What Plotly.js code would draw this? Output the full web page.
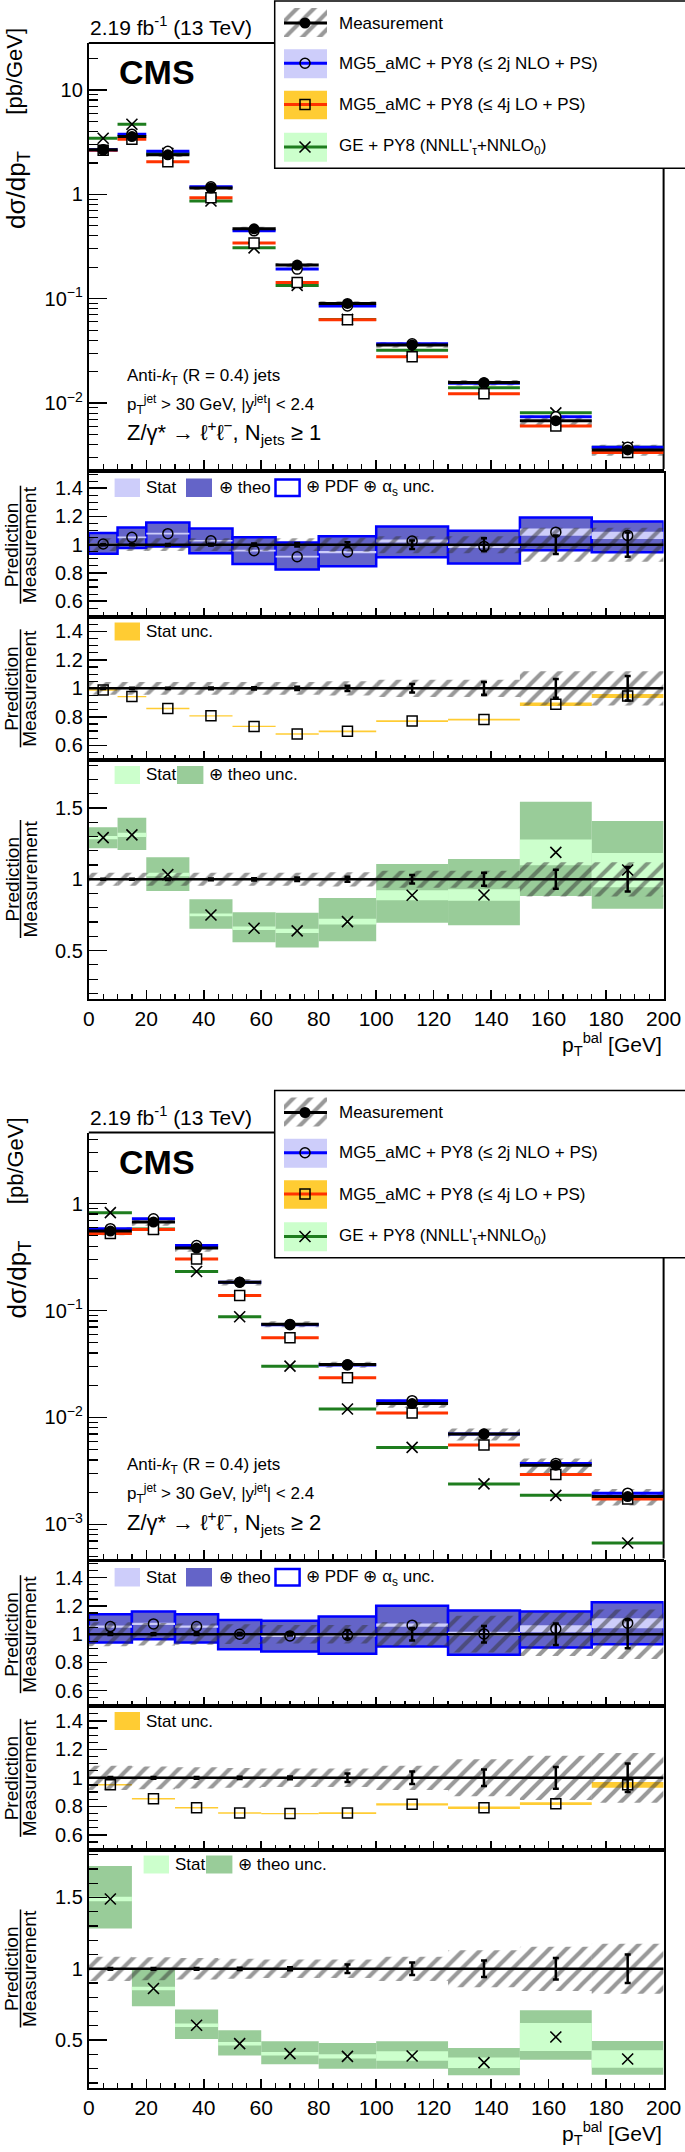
<!DOCTYPE html>
<html><head><meta charset="utf-8">
<script src="https://cdn.plot.ly/plotly-3.0.1.min.js"></script>
<style>html,body{margin:0;padding:0;background:#fff}</style>
</head><body><div id="plot" style="width:685px;height:2152px"></div>
<script>
// ================= DATA: N_jets >= 1 =================
const binEdges1 = [0,10,20,35,50,65,80,100,125,150,175,200];
const meas1     = [2.67, 3.58, 2.39, 1.15, 0.467, 0.21, 0.090, 0.036, 0.0157, 0.00678, 0.00355];
const measSys1  = [0.045,0.045,0.045,0.045,0.045,0.045,0.05,0.06,0.06,0.12,0.12];
const measStat1 = [0.004,0.004,0.005,0.006,0.008,0.012,0.018,0.03,0.045,0.066,0.086];
const nloPred1  = [2.68, 3.77, 2.58, 1.18, 0.447, 0.192, 0.0853, 0.0369, 0.0155, 0.00738, 0.00378];
const loPred1   = [2.64, 3.37, 2.05, 0.928, 0.342, 0.143, 0.0628, 0.0277, 0.0123, 0.00602, 0.00336];
const gePred1   = [3.45, 4.69, 2.47, 0.863, 0.307, 0.134, 0.0633, 0.032, 0.014, 0.00806, 0.00378];
const nloRatio1 = [1.005,1.052,1.078,1.028,0.958,0.915,0.948,1.026,0.988,1.089,1.066];
const nloLo1    = [0.936,0.976,0.988,0.939,0.864,0.824,0.847,0.911,0.866,0.960,0.946];
const nloHi1    = [1.082,1.122,1.158,1.115,1.052,1.016,1.059,1.129,1.099,1.193,1.165];
const nloStat1  = [0.006,0.006,0.006,0.006,0.006,0.006,0.008,0.01,0.012,0.025,0.025];
const loRatio1  = [0.988,0.942,0.858,0.807,0.733,0.679,0.698,0.77,0.781,0.888,0.947];
const loStat1   = [0.005,0.005,0.005,0.005,0.005,0.005,0.006,0.006,0.006,0.012,0.014];
const geRatio1  = [1.292,1.311,1.033,0.75,0.657,0.638,0.703,0.888,0.89,1.189,1.065];
const geLo1     = [1.217,1.206,0.918,0.654,0.558,0.521,0.565,0.696,0.678,0.883,0.794];
const geHi1     = [1.364,1.432,1.154,0.86,0.769,0.766,0.869,1.107,1.143,1.544,1.409];
const geStat1   = [0.012,0.015,0.012,0.01,0.012,0.015,0.02,0.035,0.04,0.09,0.12];

// ================= DATA: N_jets >= 2 =================
const binEdges2 = [0,15,30,45,60,80,100,125,150,175,200];
const meas2     = [0.553, 0.673, 0.384, 0.184, 0.0745, 0.0312, 0.0135, 0.00699, 0.00358, 0.00182];
const measSys2  = [0.085,0.08,0.075,0.07,0.065,0.065,0.085,0.13,0.155,0.175];
const measStat2 = [0.006,0.006,0.006,0.008,0.01,0.03,0.044,0.058,0.076,0.1];
const nloPred2  = [0.583, 0.722, 0.405, 0.184, 0.0736, 0.031, 0.01436, 0.0070, 0.00372, 0.00196];
const loPred2   = [0.526, 0.574, 0.303, 0.1386, 0.0558, 0.0235, 0.011, 0.00552, 0.00293, 0.00173];
const gePred2   = [0.823, 0.58, 0.232, 0.0874, 0.0302, 0.012, 0.00525, 0.00239, 0.00187, 0.00067];
const nloRatio2 = [1.054,1.073,1.054,1.0,0.988,0.993,1.064,1.002,1.038,1.078];
const nloLo2    = [0.941,0.965,0.941,0.894,0.878,0.861,0.913,0.854,0.906,0.929];
const nloHi2    = [1.141,1.16,1.141,1.101,1.096,1.125,1.202,1.167,1.16,1.226];
const nloStat2  = [0.008,0.008,0.008,0.008,0.008,0.01,0.012,0.015,0.025,0.035];
const loRatio2  = [0.951,0.853,0.79,0.753,0.749,0.753,0.814,0.79,0.819,0.951];
const loStat2   = [0.005,0.005,0.005,0.005,0.005,0.006,0.008,0.008,0.01,0.02];
const geRatio2  = [1.489,0.862,0.604,0.475,0.405,0.386,0.389,0.342,0.522,0.368];
const geLo2     = [1.283,0.738,0.508,0.393,0.33,0.3,0.3,0.253,0.363,0.258];
const geHi2     = [1.721,1.0,0.714,0.569,0.492,0.48,0.492,0.445,0.71,0.494];
const geStat2   = [0.015,0.012,0.012,0.012,0.012,0.015,0.033,0.037,0.098,0.061];

// ================= TEXT =================
const lumiText = '2.19 fb<sup>-1</sup> (13 TeV)';
const legendLabels = ['Measurement','MG5_aMC + PY8 (≤ 2j NLO + PS)','MG5_aMC + PY8 (≤ 4j LO + PS)',"GE + PY8 (NNLL'<sub>τ</sub>+NNLO<sub>0</sub>)"];
const selText1 = 'Anti-<i>k</i><sub>T</sub> (R = 0.4) jets';
const selText2 = 'p<sub>T</sub><sup>jet</sup> > 30 GeV, |y<sup>jet</sup>| < 2.4';
const procTexts = ['Z/γ* → ℓ<sup>+</sup>ℓ<sup>−</sup>, N<sub>jets</sub> ≥ 1','Z/γ* → ℓ<sup>+</sup>ℓ<sup>−</sup>, N<sub>jets</sub> ≥ 2'];
const mainTicks1 = {vals:[0.01,0.1,1,10], text:['10<sup>−2</sup>','10<sup>−1</sup>','1','10']};
const mainTicks2 = {vals:[0.001,0.01,0.1,1], text:['10<sup>−3</sup>','10<sup>−2</sup>','10<sup>−1</sup>','1']};

// ================= LAYOUT CONSTANTS =================
const W=685, H=2152, FONT='Liberation Sans, Arial, Helvetica, sans-serif';
const XL=88.8, XR=663.6, OFF=1089.5;
const PAN={main:[43,469], r1:[472.7,616.7], r2:[616.7,760], r3:[760,998.7]};
const COL={nloLine:'#0000ff', nloBox:'#6464c8', nloStat:'#cdcdfa', loLine:'#ff3300', loBand:'#ffcc33',
           geLine:'#1e7d1e', geBox:'#99cc99', geStat:'#ccffcc', hatch:'#333333'};
const px=v=>v/W, py=v=>1-v/H;

const traces=[], shapes=[], ann=[], layout={};
function xid(n){return n===1?'x':'x'+n;}
function yid(n){return n===1?'y':'y'+n;}
function key(a,n){return a+'axis'+(n===1?'':n);}
function centers(e){const c=[];for(let i=0;i<e.length-1;i++)c.push((e[i]+e[i+1])/2);return c;}
function widths(e){const c=[];for(let i=0;i<e.length-1;i++)c.push(e[i+1]-e[i]);return c;}
function segs(e,v){const x=[],y=[];for(let i=0;i<v.length;i++){x.push(e[i],e[i+1],null);y.push(v[i],v[i],null);}return {x,y};}

function txt(x,y,text,size,opts){ann.push(Object.assign({xref:'paper',yref:'paper',x:px(x),y:py(y),text,showarrow:false,
  font:{family:FONT,size,color:'black'},xanchor:'left',yanchor:'middle'},opts||{}));}
function rect(x0,y0,x1,y1,fill,ln,layer){shapes.push({type:'rect',xref:'paper',yref:'paper',x0:px(x0),x1:px(x1),y0:py(y1),y1:py(y0),
  fillcolor:fill,line:ln||{width:0},layer:layer||'above'});}
function seg(x0,y0,x1,y1,color,width,layer){shapes.push({type:'line',xref:'paper',yref:'paper',x0:px(x0),x1:px(x1),y0:py(y0),y1:py(y1),
  line:{color,width},layer:layer||'above'});}

function barT(xa,ya,x,w,base,h,color,ln){return {type:'bar',x,width:w,base,y:h,xaxis:xa,yaxis:ya,
  marker:{color,line:ln||{width:0}},hoverinfo:'skip',showlegend:false};}
function hatchT(xa,ya,x,w,base,h){return {type:'bar',x,width:w,base,y:h,xaxis:xa,yaxis:ya,hoverinfo:'skip',showlegend:false,
  marker:{color:'rgba(0,0,0,0)',line:{width:0},pattern:{shape:'/',fgcolor:COL.hatch,bgcolor:'rgba(0,0,0,0)',size:12,solidity:0.34,fillmode:'overlay'}}};}
function lineT(xa,ya,s,color,width){return {type:'scatter',mode:'lines',x:s.x,y:s.y,xaxis:xa,yaxis:ya,line:{color,width},hoverinfo:'skip',showlegend:false};}
function markT(xa,ya,x,y,symbol,size,fill,lw,extra){return Object.assign({type:'scatter',mode:'markers',x,y,xaxis:xa,yaxis:ya,
  marker:{symbol,size,color:fill,line:{color:'black',width:lw}},hoverinfo:'skip',showlegend:false},extra||{});}

function xAxis(n,anchorN,labels,mirror){layout[key('x',n)]={domain:[px(XL),px(XR)],range:[0,200],anchor:yid(anchorN),
  showline:true,linecolor:'black',linewidth:2,mirror:mirror,ticks:'inside',ticklen:9,tickwidth:1.5,tickcolor:'black',
  tickmode:'linear',tick0:0,dtick:20,minor:{ticks:'inside',ticklen:5,tickwidth:1.2,tickcolor:'black',tick0:0,dtick:5},
  showgrid:false,zeroline:false,showticklabels:labels,tickfont:{family:FONT,size:21,color:'black'},fixedrange:true};}
function yAxis(n,p,range,tv,tt,minorDt,mirror,extra){layout[key('y',n)]=Object.assign({domain:[py(p[1]),py(p[0])],range,anchor:xid(n),
  showline:true,linecolor:'black',linewidth:2,mirror:mirror,ticks:'inside',ticklen:18,tickwidth:1.5,tickcolor:'black',
  tickmode:'array',tickvals:tv,ticktext:tt,minor:{ticks:'inside',ticklen:9,tickwidth:1.2,tickcolor:'black',tick0:0,dtick:minorDt},
  showgrid:false,zeroline:false,tickfont:{family:FONT,size:20,color:'black'},fixedrange:true},extra||{});}

function fracTitle(yc){
  txt(11.5,yc,'Prediction',19,{xanchor:'center',textangle:-90});
  txt(29.5,yc,'Measurement',19,{xanchor:'center',textangle:-90});
  seg(20.5,yc-59,20.5,yc+59,'black',1.5);
}

function build(D,off,n0,mainRange,mt,procText,r3LegendShift){
  const c=centers(D.edges), w=widths(D.edges), ones=c.map(()=>1);
  const sh=a=>[a[0]+off,a[1]+off];
  const m=n0, r1=n0+1, r2=n0+2, r3=n0+3;
  const minorLog=[];
  for(let d=-5;d<=2;d++)for(let k=2;k<=9;k++)minorLog.push(k*Math.pow(10,d));
  xAxis(m,m,false,false);
  yAxis(m,sh(PAN.main),mainRange,mt.vals,mt.text,1,false,{type:'log',minor:{ticks:'inside',ticklen:9,tickwidth:1.2,tickcolor:'black',tickmode:'array',tickvals:minorLog}});
  xAxis(r1,r1,false,true); yAxis(r1,sh(PAN.r1),[0.49,1.51],[0.6,0.8,1,1.2,1.4],['0.6','0.8','1','1.2','1.4'],0.05,true);
  xAxis(r2,r2,false,true); yAxis(r2,sh(PAN.r2),[0.497,1.503],[0.6,0.8,1,1.2,1.4],['0.6','0.8','1','1.2','1.4'],0.05,true);
  xAxis(r3,r3,true,true);  yAxis(r3,sh(PAN.r3),[0.163,1.836],[0.5,1,1.5],['0.5','1','1.5'],0.1,true);
  const X=[xid(m),xid(r1),xid(r2),xid(r3)], Y=[yid(m),yid(r1),yid(r2),yid(r3)];

  // ---- main panel ----
  traces.push(hatchT(X[0],Y[0],c,w,D.meas.map((v,i)=>v*(1-D.sys[i])),D.meas.map((v,i)=>2*v*D.sys[i])));
  traces.push(lineT(X[0],Y[0],segs(D.edges,D.ge),COL.geLine,3));
  traces.push(lineT(X[0],Y[0],segs(D.edges,D.lo),COL.loLine,3));
  traces.push(lineT(X[0],Y[0],segs(D.edges,D.nlo),COL.nloLine,3));
  traces.push(lineT(X[0],Y[0],segs(D.edges,D.meas),'black',3));
  traces.push(markT(X[0],Y[0],c,D.ge,'x-thin',11,'black',1.6));
  traces.push(markT(X[0],Y[0],c,D.lo,'square',10,'white',1.5));
  traces.push(markT(X[0],Y[0],c,D.nlo,'circle',10,'white',1.5));
  traces.push(markT(X[0],Y[0],c,D.meas,'circle',11,'black',0));

  // ---- ratio bands ----
  traces.push(barT(X[1],Y[1],c,w,D.nloLo,D.nloHi.map((v,i)=>v-D.nloLo[i]),COL.nloBox,{color:COL.nloLine,width:2.5}));
  traces.push(barT(X[1],Y[1],c,w,D.nloR.map((v,i)=>v-D.nloS[i]),D.nloS.map(s=>2*s),COL.nloStat));
  traces.push(barT(X[2],Y[2],c,w,D.loR.map((v,i)=>v-D.loS[i]),D.loS.map(s=>2*s),COL.loBand));
  traces.push(barT(X[3],Y[3],c,w,D.geLo,D.geHi.map((v,i)=>v-D.geLo[i]),COL.geBox));
  traces.push(barT(X[3],Y[3],c,w,D.geR.map((v,i)=>v-D.geS[i]),D.geS.map(s=>2*s),COL.geStat));
  for(let k=1;k<=3;k++){
    traces.push(hatchT(X[k],Y[k],c,w,D.sys.map(s=>1-s),D.sys.map(s=>2*s)));
    traces.push(lineT(X[k],Y[k],{x:[0,200],y:[1,1]},'black',2.5));
    traces.push(markT(X[k],Y[k],c,ones,'line-ew',1,'black',0,{error_y:{type:'data',array:D.stat,color:'black',thickness:2.5,width:3}}));
  }
  traces.push(markT(X[1],Y[1],c,D.nloR,'circle-open',10,'black',1.5));
  traces.push(markT(X[2],Y[2],c,D.loR,'square-open',10,'black',1.5));
  traces.push(markT(X[3],Y[3],c,D.geR,'x-thin',11,'black',1.6));

  // ---- frames of main panel (top/right) + legend box ----
  seg(XL,PAN.main[0]+off,XR,PAN.main[0]+off,'black',2,'below');
  seg(XR,PAN.main[0]+off,XR,PAN.main[1]+off,'black',2,'below');
  rect(274.7,1+off,690,168.3+off,'white',{color:'black',width:1.5},'below');
  const rows=[23,63.3,104.5,147];
  rect(284,49.3+off,327,78.3+off,COL.nloStat,null,'below');
  rect(284,90.7+off,327,119.3+off,COL.loBand,null,'below');
  rect(284,132.7+off,327,161.7+off,COL.geStat,null,'below');
  traces.push(hatchT('x9','y9',[305.5],[43],[8+off],[29]));
  const lcols=['black',COL.nloLine,COL.loLine,COL.geLine];
  rows.forEach((r,i)=>traces.push({type:'scatter',mode:'lines',x:[284,327],y:[r+off,r+off],xaxis:'x9',yaxis:'y9',line:{color:lcols[i],width:3},hoverinfo:'skip'}));
  traces.push(markT('x9','y9',[305],[rows[0]+off],'circle',11,'black',0));
  traces.push(markT('x9','y9',[305],[rows[1]+off],'circle-open',10,'black',1.5));
  traces.push(markT('x9','y9',[305],[rows[2]+off],'square-open',10,'black',1.5));
  traces.push(markT('x9','y9',[305],[rows[3]+off],'x-thin',11,'black',1.6));
  legendLabels.forEach((t,i)=>txt(337,rows[i]+off,t,17));

  // ---- texts ----
  txt(87.5,41+off,lumiText,21,{yanchor:'bottom'});
  txt(117,72+off,'<b>CMS</b>',34);
  txt(124.7,376.5+off,selText1,17);
  txt(124.7,404+off,selText2,17);
  txt(124.7,433+off,procText,22);
  txt(15,71.7+off,'[pb/GeV]',22,{xanchor:'center',textangle:-90});
  txt(18,190+off,'dσ/dp<sub>T</sub>',26,{xanchor:'center',textangle:-90});
  txt(XR,1044+off,'p<sub>T</sub><sup>bal</sup> [GeV]',21,{xanchor:'right'});
  fracTitle((PAN.r1[0]+PAN.r1[1])/2+off);
  fracTitle((PAN.r2[0]+PAN.r2[1])/2+off);
  fracTitle(879+off);

  // ---- ratio legends ----
  rect(114.6,478.5+off,140,497+off,COL.nloStat);
  txt(144,488+off,'Stat',17);
  rect(186,478.5+off,212,497+off,COL.nloBox);
  txt(216.5,488+off,'⊕ theo',17);
  rect(275.5,479.5+off,299.6,496+off,'white',{color:COL.nloLine,width:2.5});
  txt(304,488+off,'⊕ PDF ⊕ α<sub>s</sub> unc.',17);
  rect(114.6,622.5+off,140,640.5+off,COL.loBand);
  txt(144,631.5+off,'Stat unc.',17);
  const s=r3LegendShift;
  rect(114.6+s,766+off,140+s,784+off,COL.geStat);
  txt(144+s,775+off,'Stat',17);
  rect(177+s,766+off,203.4+s,784+off,COL.geBox);
  txt(207+s,775+off,'⊕ theo unc.',17);
}

build({edges:binEdges1,meas:meas1,sys:measSys1,stat:measStat1,nlo:nloPred1,lo:loPred1,ge:gePred1,
       nloR:nloRatio1,nloLo:nloLo1,nloHi:nloHi1,nloS:nloStat1,loR:loRatio1,loS:loStat1,
       geR:geRatio1,geLo:geLo1,geHi:geHi1,geS:geStat1},0,1,[-2.632,1.45],mainTicks1,procTexts[0],0);
build({edges:binEdges2,meas:meas2,sys:measSys2,stat:measStat2,nlo:nloPred2,lo:loPred2,ge:gePred2,
       nloR:nloRatio2,nloLo:nloLo2,nloHi:nloHi2,nloS:nloStat2,loR:loRatio2,loS:loStat2,
       geR:geRatio2,geLo:geLo2,geHi:geHi2,geS:geStat2},OFF,5,[-3.319,0.665],mainTicks2,procTexts[1],29);

layout.xaxis9={domain:[0,1],range:[0,W],visible:false,fixedrange:true,anchor:'y9'};
layout.yaxis9={domain:[0,1],range:[H,0],visible:false,fixedrange:true,anchor:'x9'};
Object.assign(layout,{width:W,height:H,margin:{l:0,r:0,t:0,b:0},paper_bgcolor:'white',plot_bgcolor:'rgba(0,0,0,0)',
  showlegend:false,barmode:'overlay',font:{family:FONT,color:'black'},shapes,annotations:ann,hovermode:false});
Plotly.newPlot('plot',traces,layout,{staticPlot:true,displayModeBar:false});
</script></body></html>
